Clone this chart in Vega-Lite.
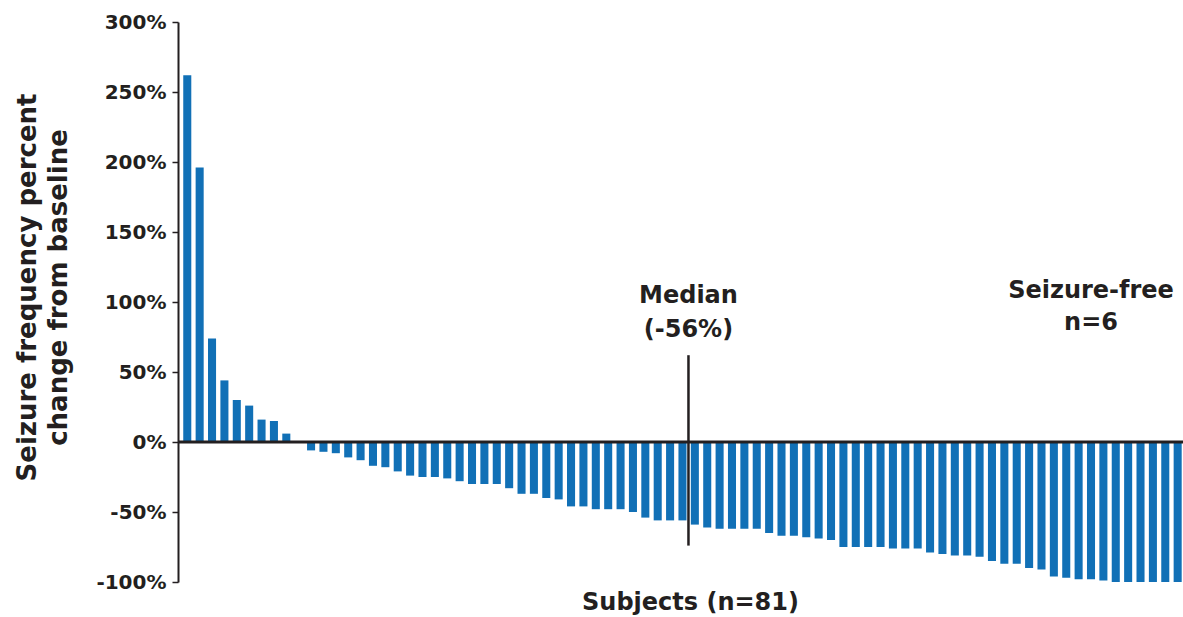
{
  "$schema": "https://vega.github.io/schema/vega-lite/v6.json",
  "width": 1005,
  "height": 560,
  "autosize": "none",
  "padding": {"left": 178, "top": 22, "right": 0, "bottom": 35},
  "background": "white",
  "config": {
    "view": {"stroke": null},
    "font": "DejaVu Sans",
    "axis": {"labelFont": "DejaVu Sans", "titleFont": "DejaVu Sans"}
  },
  "layer": [
    {
      "data": {"values": [
        {"subject": 1, "change": 262}, {"subject": 2, "change": 196}, {"subject": 3, "change": 74},
        {"subject": 4, "change": 44}, {"subject": 5, "change": 30}, {"subject": 6, "change": 26},
        {"subject": 7, "change": 16}, {"subject": 8, "change": 15}, {"subject": 9, "change": 6},
        {"subject": 10, "change": 0}, {"subject": 11, "change": -6}, {"subject": 12, "change": -7},
        {"subject": 13, "change": -8}, {"subject": 14, "change": -11}, {"subject": 15, "change": -13},
        {"subject": 16, "change": -17}, {"subject": 17, "change": -18}, {"subject": 18, "change": -21},
        {"subject": 19, "change": -24}, {"subject": 20, "change": -25}, {"subject": 21, "change": -25},
        {"subject": 22, "change": -26}, {"subject": 23, "change": -28}, {"subject": 24, "change": -30},
        {"subject": 25, "change": -30}, {"subject": 26, "change": -30}, {"subject": 27, "change": -33},
        {"subject": 28, "change": -37}, {"subject": 29, "change": -37}, {"subject": 30, "change": -40},
        {"subject": 31, "change": -41}, {"subject": 32, "change": -46}, {"subject": 33, "change": -46},
        {"subject": 34, "change": -48}, {"subject": 35, "change": -48}, {"subject": 36, "change": -48},
        {"subject": 37, "change": -50}, {"subject": 38, "change": -54}, {"subject": 39, "change": -56},
        {"subject": 40, "change": -56}, {"subject": 41, "change": -56}, {"subject": 42, "change": -59},
        {"subject": 43, "change": -61}, {"subject": 44, "change": -62}, {"subject": 45, "change": -62},
        {"subject": 46, "change": -62}, {"subject": 47, "change": -62}, {"subject": 48, "change": -65},
        {"subject": 49, "change": -67}, {"subject": 50, "change": -67}, {"subject": 51, "change": -68},
        {"subject": 52, "change": -69}, {"subject": 53, "change": -70}, {"subject": 54, "change": -75},
        {"subject": 55, "change": -75}, {"subject": 56, "change": -75}, {"subject": 57, "change": -75},
        {"subject": 58, "change": -76}, {"subject": 59, "change": -76}, {"subject": 60, "change": -76},
        {"subject": 61, "change": -79}, {"subject": 62, "change": -80}, {"subject": 63, "change": -81},
        {"subject": 64, "change": -81}, {"subject": 65, "change": -82}, {"subject": 66, "change": -85},
        {"subject": 67, "change": -87}, {"subject": 68, "change": -87}, {"subject": 69, "change": -90},
        {"subject": 70, "change": -91}, {"subject": 71, "change": -96}, {"subject": 72, "change": -97},
        {"subject": 73, "change": -98}, {"subject": 74, "change": -98}, {"subject": 75, "change": -99},
        {"subject": 76, "change": -100}, {"subject": 77, "change": -100}, {"subject": 78, "change": -100},
        {"subject": 79, "change": -100}, {"subject": 80, "change": -100}, {"subject": 81, "change": -100}
      ]},
      "mark": {"type": "bar", "color": "#1170b6"},
      "encoding": {
        "x": {
          "field": "subject", "type": "ordinal",
          "scale": {"paddingInner": 0.35, "paddingOuter": 0.265, "align": 0.8},
          "axis": {
            "title": "Subjects (n=81)", "labels": false, "ticks": false, "domain": false,
            "titleFontSize": 24, "titleFontWeight": "bold", "titleColor": "#231f20",
            "titlePadding": 8, "titleX": 512
          }
        },
        "y": {
          "field": "change", "type": "quantitative",
          "scale": {"domain": [-100, 300], "nice": false, "zero": false},
          "axis": {
            "title": ["Seizure frequency percent", "change from baseline"],
            "values": [-100, -50, 0, 50, 100, 150, 200, 250, 300],
            "labelExpr": "datum.value + '%'",
            "grid": false,
            "domainColor": "#231f20", "domainWidth": 2,
            "tickColor": "#231f20", "tickSize": 6, "tickWidth": 1.5,
            "labelFontSize": 20, "labelFontWeight": "bold", "labelColor": "#231f20",
            "labelPadding": 6,
            "titleFontSize": 26, "titleFontWeight": "bold", "titleColor": "#231f20",
            "titleLineHeight": 31, "titlePadding": 24, "titleY": 265
          }
        }
      }
    },
    {
      "data": {"values": [{"level": 0}]},
      "mark": {"type": "rule", "color": "#231f20", "strokeWidth": 3},
      "encoding": {"y": {"field": "level", "type": "quantitative"}}
    },
    {
      "data": {"values": [{"subject": 41, "top": 62, "bottom": -74}]},
      "mark": {"type": "rule", "color": "#231f20", "strokeWidth": 2.5, "xOffset": 6},
      "encoding": {
        "x": {"field": "subject", "type": "ordinal"},
        "y": {"field": "top", "type": "quantitative"},
        "y2": {"field": "bottom"}
      }
    },
    {
      "data": {"values": [
        {"subject": 41, "pos": 104, "label": "Median"},
        {"subject": 41, "pos": 80, "label": "(-56%)"}
      ]},
      "mark": {"type": "text", "fontSize": 24, "fontWeight": "bold", "color": "#231f20", "xOffset": 6, "baseline": "middle", "align": "center"},
      "encoding": {
        "x": {"field": "subject", "type": "ordinal"},
        "y": {"field": "pos", "type": "quantitative"},
        "text": {"field": "label"}
      }
    },
    {
      "data": {"values": [
        {"subject": 74, "pos": 108, "label": "Seizure-free"},
        {"subject": 74, "pos": 85, "label": "n=6"}
      ]},
      "mark": {"type": "text", "fontSize": 24, "fontWeight": "bold", "color": "#231f20", "baseline": "middle", "align": "center"},
      "encoding": {
        "x": {"field": "subject", "type": "ordinal"},
        "y": {"field": "pos", "type": "quantitative"},
        "text": {"field": "label"}
      }
    }
  ]
}
